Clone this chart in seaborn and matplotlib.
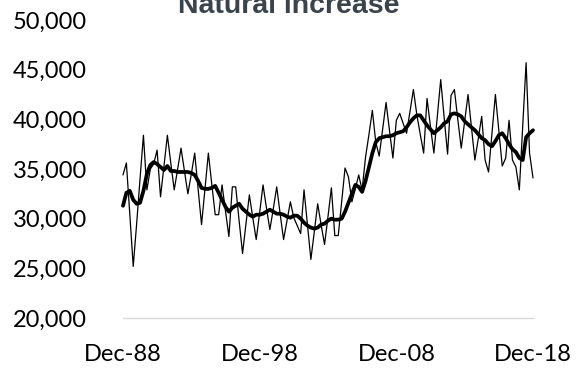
import matplotlib
matplotlib.use("Agg")
import matplotlib.pyplot as plt
import matplotlib.ticker as mticker
import numpy as np
import pandas as pd
import seaborn as sns

# Quarterly natural increase (births minus deaths), Dec-1988 to Dec-2018
quarterly = [
    34400, 35600, 30500, 25200, 29500, 34000, 38400, 32900, 35000, 35500,
    36900, 32200, 35300, 38400, 35600, 32900, 35000, 37100, 34800, 32500,
    34500, 36600, 33000, 29400, 33000, 36600, 33500, 30400, 30400, 33400,
    30800, 28200, 33200, 33200, 29800, 26500, 29500, 32400, 30100, 27900,
    30600, 33400, 31100, 28900, 31000, 33200, 30500, 27900, 29800, 31700,
    30100, 29300, 28500, 32900, 29400, 25900, 28700, 31500, 29400, 27400,
    30200, 33100, 28300, 28300, 31700, 35100, 34200, 31700, 33000, 34400,
    32900, 36200, 38500, 40900, 37700, 36300, 39000, 41700, 38900, 36100,
    39900, 40600, 39600, 38600, 40800, 43000, 40500, 38500, 36600, 42100,
    39300, 36600, 40300, 44000, 40200, 36500, 42400, 43000, 40000, 37100,
    39800, 42500, 39200, 35900, 38100, 40300, 35900, 34700, 38600, 42500,
    38900, 35300, 36100, 39900, 35900, 35200, 32900, 39300, 45700, 36600,
    34100,
]

# Annual (four-quarter) trend
trend = [
    31300, 32600, 32800, 31900, 31500, 31600, 32800, 34500, 35400, 35700,
    35500, 35200, 34900, 35300, 34800, 34800, 34700, 34700, 34700, 34700,
    34600, 34400, 33800, 33100, 33000, 33000, 33100, 33300, 32600, 31900,
    31200, 30700, 31100, 31300, 31500, 31000, 30700, 30400, 30200, 30400,
    30400, 30500, 30700, 30900, 30700, 30500, 30500, 30400, 30200, 30100,
    30300, 30300, 30000, 29600, 29300, 29100, 29000, 29100, 29400, 29500,
    29800, 30000, 29900, 29900, 30000, 30700, 31600, 32500, 33400, 33200,
    32700, 33800, 35200, 36600, 37700, 38100, 38200, 38300, 38300, 38400,
    38600, 38700, 38800, 39200, 39700, 40100, 40400, 40400, 39900, 39400,
    39000, 38600, 38900, 39200, 39600, 39800, 40500, 40600, 40500, 40300,
    39800, 39500, 39200, 38900, 38500, 38100, 37900, 37500, 37300, 37800,
    38400, 38600, 38100, 37500, 37000, 36700, 36100, 35900, 38200, 38600,
    38900,
]

tick_dates = ["1988-12-31", "1998-12-31", "2008-12-31", "2018-12-31"]
tick_labels = ["Dec-88", "Dec-98", "Dec-08", "Dec-18"]
y_ticks = [20000, 25000, 30000, 35000, 40000, 45000, 50000]
title = "Natural increase"

quarters = pd.date_range("1988-12-31", periods=len(quarterly), freq="QE-DEC")
df = pd.DataFrame({"quarter": quarters, "quarterly": quarterly, "trend": trend})

sns.set_style("white")
plt.rcParams["font.family"] = ["Lato", "DejaVu Sans"]

W, H = 577, 368
fig = plt.figure(figsize=(W / 100, H / 100), dpi=100)
ax = fig.add_axes([123 / W, 1 - 318 / H, (533 - 123) / W, (318 - 20) / H])

sns.lineplot(data=df, x="quarter", y="quarterly", ax=ax, color="black",
             linewidth=0.9, clip_on=False)
sns.lineplot(data=df, x="quarter", y="trend", ax=ax, color="black",
             linewidth=2.7, clip_on=False)

ax.set_xlim(quarters[0], quarters[-1])
ax.set_ylim(20000, 50000)
ax.set_xlabel("")
ax.set_ylabel("")

ax.set_xticks(pd.to_datetime(tick_dates))
ax.set_xticklabels(tick_labels)
ax.set_yticks(y_ticks)
ax.yaxis.set_major_formatter(mticker.FuncFormatter(lambda v, p: f"{int(v):,}"))

for side in ["left", "top", "right"]:
    ax.spines[side].set_visible(False)
ax.spines["bottom"].set_color("#d9d9d9")
ax.spines["bottom"].set_linewidth(1.0)

ax.tick_params(axis="x", which="major", direction="out", length=6,
               width=1.0, color="#d9d9d9", labelsize=17, pad=13,
               labelcolor="black")
ax.tick_params(axis="y", length=0, labelsize=17, pad=26, labelcolor="black")
ax.grid(False)

fig.text(0.5, 1 - 13 / H, title, ha="center", va="baseline",
         fontsize=20.5, fontweight="bold", color="#3b434c",
         family=["Liberation Sans", "DejaVu Sans"])

fig.savefig("out.png", dpi=100)
